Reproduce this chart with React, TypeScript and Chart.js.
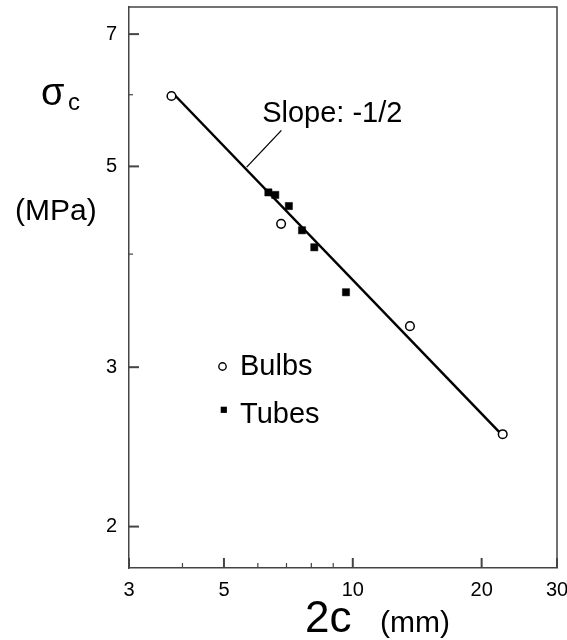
import React, { useEffect, useRef } from 'react';
import { Chart, registerables } from 'chart.js';

Chart.register(...registerables);

// ---- data (log-log plot) ----
const seriesNames = ['Bulbs', 'Tubes'];
const bulbsX = [3.77, 6.8, 13.6, 22.4];
const bulbsY = [5.98, 4.32, 3.33, 2.53];
const tubesX = [6.35, 6.59, 7.09, 7.61, 8.13, 9.64];
const tubesY = [4.68, 4.65, 4.52, 4.25, 4.07, 3.63];
const fitX = [3.79, 22.4];
const fitY = [6.03, 2.52];
const leaderX = [5.65, 6.81];
const leaderY = [4.99, 5.48];
const slopeText = 'Slope: -1/2';
const slopeTextAt = { x: 6.14, y: 5.6 };

const xRange = [3, 30];
const yRange = [1.8, 7.5];
const xTickValues = [3, 4, 5, 6, 7, 8, 9, 10, 20, 30];
const xTickLabels = [3, 5, 10, 20, 30];
const yTickValues = [2, 3, 4, 5, 6, 7];
const yTickLabels = [2, 3, 5, 7];

const FONT = '"Liberation Sans", Arial, Helvetica, sans-serif';
const AXIS = '#444';

const toPoints = (xs: number[], ys: number[]) => xs.map((x, i) => ({ x, y: ys[i] }));

const decor = {
  id: 'decor',
  afterDatasetsDraw(chart: any) {
    const { ctx, chartArea: a, scales } = chart;
    const xs = scales.x;
    const ys = scales.y;
    ctx.save();
    ctx.strokeStyle = AXIS;
    // top / right frame
    ctx.lineWidth = 1.5;
    ctx.beginPath();
    ctx.moveTo(a.left, a.top);
    ctx.lineTo(a.right, a.top);
    ctx.lineTo(a.right, a.bottom);
    ctx.stroke();
    // inside tick marks
    xs.ticks.forEach((t: any) => {
      const major = xTickLabels.includes(t.value);
      const px = xs.getPixelForValue(t.value);
      ctx.lineWidth = major ? 2 : 1.2;
      ctx.beginPath();
      ctx.moveTo(px, a.bottom);
      ctx.lineTo(px, a.bottom - (major ? 10 : 5));
      ctx.stroke();
    });
    ys.ticks.forEach((t: any) => {
      const major = yTickLabels.includes(t.value);
      const py = ys.getPixelForValue(t.value);
      ctx.lineWidth = major ? 2 : 1.2;
      ctx.beginPath();
      ctx.moveTo(a.left, py);
      ctx.lineTo(a.left + (major ? 10 : 4), py);
      ctx.stroke();
    });

    ctx.fillStyle = '#000';
    ctx.textBaseline = 'alphabetic';
    ctx.textAlign = 'left';
    // slope annotation
    ctx.font = `29px ${FONT}`;
    ctx.fillText(slopeText, xs.getPixelForValue(slopeTextAt.x), ys.getPixelForValue(slopeTextAt.y));

    // y axis title
    ctx.font = `38px ${FONT}`;
    ctx.fillText('σ', 41, 105);
    ctx.font = `24px ${FONT}`;
    ctx.fillText('c', 68, 110);
    ctx.font = `30px ${FONT}`;
    ctx.fillText('(MPa)', 15, 220);

    // x axis title
    ctx.font = `44px ${FONT}`;
    ctx.fillText('2c', 305, 632);
    ctx.font = `30px ${FONT}`;
    ctx.fillText('(mm)', 380, 632);

    // legend
    const ds = chart.data.datasets;
    ctx.lineWidth = 1.4;
    ctx.strokeStyle = ds[0].pointBorderColor;
    ctx.fillStyle = ds[0].pointBackgroundColor;
    ctx.beginPath();
    ctx.arc(222.5, 366.5, 3.7, 0, Math.PI * 2);
    ctx.fill();
    ctx.stroke();
    ctx.fillStyle = ds[1].pointBackgroundColor;
    ctx.fillRect(220.7, 406.7, 6.2, 6.2);
    ctx.fillStyle = '#000';
    ctx.font = `29px ${FONT}`;
    ctx.fillText(ds[0].label, 240, 375);
    ctx.fillText(ds[1].label, 240, 423);
    ctx.restore();
  },
};

export default function App() {
  const ref = useRef<HTMLCanvasElement | null>(null);

  useEffect(() => {
    if (!ref.current) return;
    const chart = new Chart(ref.current, {
      type: 'scatter',
      data: {
        datasets: [
          {
            label: seriesNames[0],
            data: toPoints(bulbsX, bulbsY),
            pointStyle: 'circle',
            pointRadius: 4.3,
            pointBorderWidth: 1.5,
            pointBorderColor: '#000',
            pointBackgroundColor: '#fff',
            showLine: false,
          },
          {
            label: seriesNames[1],
            data: toPoints(tubesX, tubesY),
            pointStyle: 'rect',
            pointRadius: 5.1,
            pointBorderWidth: 0.5,
            pointBorderColor: '#000',
            pointBackgroundColor: '#000',
            showLine: false,
          },
          {
            label: 'fit',
            data: toPoints(fitX, fitY),
            showLine: true,
            borderColor: '#000',
            borderWidth: 2.5,
            pointRadius: 0,
          },
          {
            label: 'leader',
            data: toPoints(leaderX, leaderY),
            showLine: true,
            borderColor: '#000',
            borderWidth: 1.3,
            pointRadius: 0,
          },
        ],
      },
      options: {
        animation: false,
        responsive: false,
        devicePixelRatio: 1,
        layout: { padding: { top: 7, right: 10, left: 0, bottom: 0 } },
        plugins: { legend: { display: false }, tooltip: { enabled: false } },
        scales: {
          x: {
            type: 'logarithmic',
            min: xRange[0],
            max: xRange[1],
            afterBuildTicks: (s: any) => {
              s.ticks = xTickValues.map((v) => ({ value: v, major: xTickLabels.includes(v) }));
            },
            afterFit: (s: any) => {
              s.height = 72;
              s.paddingLeft = 0;
              s.paddingRight = 0;
            },
            grid: { display: false, drawTicks: false },
            border: { display: true, color: AXIS, width: 1.5 },
            ticks: {
              autoSkip: false,
              maxRotation: 0,
              padding: 10,
              color: '#000',
              font: { family: FONT, size: 20 },
              callback: (v: any) => (xTickLabels.includes(Number(v)) ? String(v) : ''),
            },
          },
          y: {
            type: 'logarithmic',
            min: yRange[0],
            max: yRange[1],
            afterBuildTicks: (s: any) => {
              s.ticks = yTickValues.map((v) => ({ value: v, major: yTickLabels.includes(v) }));
            },
            afterFit: (s: any) => {
              s.width = 129;
              s.paddingTop = 0;
              s.paddingBottom = 0;
            },
            grid: { display: false, drawTicks: false },
            border: { display: true, color: AXIS, width: 1.5 },
            ticks: {
              autoSkip: false,
              padding: 12,
              color: '#000',
              font: { family: FONT, size: 20 },
              callback: (v: any) => (yTickLabels.includes(Number(v)) ? String(v) : ''),
            },
          },
        },
      },
      plugins: [decor],
    });
    return () => chart.destroy();
  }, []);

  return (
    <div style={{ position: 'fixed', left: 0, top: 0, width: 567, height: 640, background: '#fff' }}>
      <canvas ref={ref} width={567} height={640} />
    </div>
  );
}
